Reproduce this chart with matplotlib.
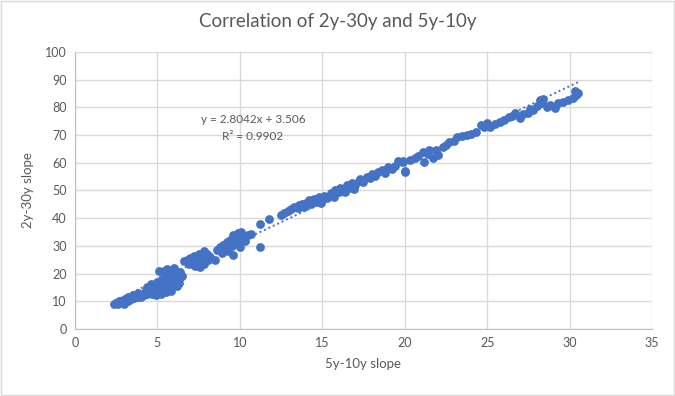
import matplotlib.pyplot as plt
from matplotlib.patches import Rectangle
import numpy as np

plt.rcParams['font.family'] = ['Lato', 'DejaVu Sans']

# 5y-10y slope (x) and 2y-30y slope (y)
x_low = [2.4, 2.5, 2.6, 2.7, 2.8, 2.9, 3.0, 3.1, 3.2, 3.3, 3.4, 3.5, 3.6, 3.7, 3.8, 3.9, 4.0, 4.1, 4.2, 4.3, 4.4, 4.5,
         3.0, 3.5, 4.0, 4.3, 3.2, 3.8, 4.4]
y_low = [9.0, 9.5, 9.2, 10.0, 9.6, 10.4, 10.1, 10.8, 10.3, 11.2, 10.9, 11.6, 11.3, 12.0, 11.5, 12.4, 12.0, 12.8, 12.3, 13.1, 12.7, 13.5,
         9.0, 12.2, 11.4, 14.0, 11.6, 13.0, 15.0]

x_mid1 = [4.6, 4.7, 4.8, 4.8, 4.9, 5.0, 5.0, 5.1, 5.1, 5.2, 5.2, 5.3, 5.3, 5.4, 5.5, 5.5, 5.6, 5.6, 5.7, 5.7, 5.8, 5.9,
          5.9, 6.0, 6.0, 6.1, 6.2, 6.3, 6.3, 6.4, 6.5, 6.2, 5.4, 4.7, 5.0, 5.8, 6.1]
y_mid1 = [16.2, 12.5, 14.0, 15.5, 12.2, 13.3, 17.0, 20.8, 14.6, 15.8, 12.8, 14.2, 18.2, 16.3, 13.5, 19.8, 17.2, 21.8, 14.8, 16.0, 18.5, 15.5,
          20.5, 17.5, 22.0, 16.3, 19.5, 18.0, 16.8, 20.5, 19.0, 15.5, 21.0, 14.5, 15.0, 13.8, 18.8]

x_mid2 = [6.6, 6.8, 6.9, 7.0, 7.1, 7.2, 7.3, 7.4, 7.5, 7.6, 7.7, 7.8, 7.8, 7.9, 8.0, 8.1, 7.2, 7.6, 8.2,
          8.5, 8.6, 8.8, 8.9, 9.0, 9.1, 9.2, 9.3, 9.4, 9.5, 9.6, 9.7, 9.8, 9.9, 10.0, 10.1, 10.2, 10.3, 10.5, 9.6, 10.0]
y_mid2 = [24.5, 25.0, 23.5, 25.8, 24.0, 26.3, 22.8, 25.2, 27.0, 24.5, 26.0, 28.0, 23.5, 25.5, 27.2, 24.8, 23.0, 22.5, 26.0,
          25.0, 28.5, 29.5, 27.5, 30.5, 29.0, 31.5, 28.2, 32.0, 30.0, 26.7, 33.0, 31.0, 34.5, 32.5, 35.0, 33.5, 31.8, 34.0, 33.8, 29.5]

x_mid3 = [10.7, 11.2, 11.2, 11.8, 12.5, 12.7, 12.9, 13.1, 13.3, 13.5, 13.6, 13.8, 13.9,
          14.0, 14.2, 14.3, 14.5, 14.6, 14.8, 14.9, 15.0, 15.1, 15.3, 15.5, 15.6, 15.7, 15.8, 16.0, 16.1, 16.3, 16.4,
          16.5, 16.6, 16.8, 16.9, 17.0, 17.2, 17.3, 17.5, 17.7, 17.9, 18.0, 18.2, 18.4, 18.6, 18.8, 19.0, 19.2, 19.4,
          19.6, 19.9, 20.0]
y_mid3 = [34.2, 37.8, 29.5, 39.8, 41.0, 42.0, 42.5, 43.2, 44.0, 43.5, 44.8, 45.2, 44.0,
          45.5, 46.5, 45.0, 47.0, 46.0, 47.5, 45.5, 46.5, 48.0, 47.2, 49.0, 48.2, 47.8, 50.0, 49.3, 51.0, 50.5, 49.5,
          52.0, 51.0, 52.8, 50.6, 52.0, 53.5, 54.0, 53.2, 55.0, 54.5, 56.0, 55.3, 56.5, 57.5, 56.2, 58.5, 57.8, 59.0,
          60.5, 60.8, 57.0]

x_high = [19.9, 20.0, 20.3, 20.6, 20.8, 21.1, 21.2, 21.4, 21.5, 21.7, 21.9, 22.0, 22.3, 22.5, 22.7, 23.0, 23.2, 23.5,
          23.8, 24.0, 24.3, 24.6, 24.8, 25.0, 25.2, 25.5, 25.8, 26.0, 26.3, 26.5, 26.7, 27.0, 27.2, 27.5, 27.6, 27.8,
          28.0, 28.2, 28.3, 28.4, 28.6, 28.8, 29.1, 29.3, 29.6, 29.9, 30.2, 30.3, 30.4, 30.5]
y_high = [60.3, 56.7, 61.0, 61.7, 62.5, 63.9, 60.3, 63.0, 64.6, 61.7, 64.5, 62.8, 65.7, 66.5, 67.5, 68.0, 69.3, 69.5,
          70.0, 70.5, 71.1, 73.6, 73.0, 74.5, 72.9, 74.0, 74.7, 75.5, 76.5, 77.0, 78.0, 76.2, 77.5, 78.0, 79.5, 79.0,
          80.5, 82.5, 81.6, 83.0, 80.1, 81.0, 79.8, 81.5, 82.0, 82.8, 83.4, 85.8, 84.5, 85.2]

slope = 2.8042
intercept = 3.506

x = np.array(x_low + x_mid1 + x_mid2 + x_mid3 + x_high)
y = np.array(y_low + y_mid1 + y_mid2 + y_mid3 + y_high)

blue = '#4472C4'
grey = '#595959'

fig = plt.figure(figsize=(6.75, 3.96), dpi=100)
ax = fig.add_axes([0.111, 0.169, 0.855, 0.700])

ax.scatter(x, y, s=40, color=blue, zorder=3, linewidths=0)
tx = np.array([x.min(), x.max()])
ax.plot(tx, slope * tx + intercept, linestyle=(0, (1, 1.5)), color=blue, linewidth=1.4, zorder=4)

ax.text(10.8, 75.5, "y = 2.8042x + 3.506", ha='center', va='center', fontsize=8.5, color=grey)
ax.text(10.8, 69.5, "R² = 0.9902", ha='center', va='center', fontsize=8.5, color=grey)

ax.set_xlim(0, 35)
ax.set_ylim(0, 100)
ax.set_xticks(range(0, 36, 5))
ax.set_yticks(range(0, 101, 10))
ax.grid(True, color='#D9D9D9', linewidth=1)
ax.set_axisbelow(True)
ax.tick_params(length=0, labelsize=9, labelcolor=grey, pad=6)
for s in ['top', 'right']:
    ax.spines[s].set_visible(False)
for s in ['left', 'bottom']:
    ax.spines[s].set_color('#BFBFBF')

ax.set_xlabel("5y-10y slope", fontsize=9.5, color=grey, labelpad=6)
ax.set_ylabel("2y-30y slope", fontsize=9.5, color=grey, labelpad=8)
fig.text(0.5, 0.945, "Correlation of 2y-30y and 5y-10y", ha='center', va='center', fontsize=13.5, color=grey)

fig.patches.append(Rectangle((0.002, 0.003), 0.996, 0.994, transform=fig.transFigure,
                             fill=False, edgecolor='#D9D9D9', linewidth=1))

fig.savefig("out.png", dpi=100)
